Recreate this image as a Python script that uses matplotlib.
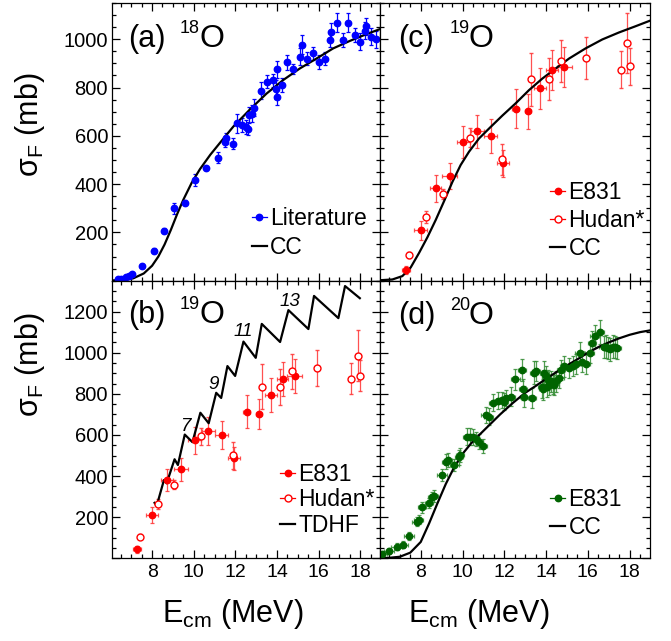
import matplotlib
matplotlib.use('Agg')
import matplotlib.pyplot as plt
from matplotlib.lines import Line2D
from matplotlib.ticker import MultipleLocator, FuncFormatter

plt.rcParams['font.family'] = ['Liberation Sans', 'DejaVu Sans']
plt.rcParams['mathtext.fontset'] = 'custom'
plt.rcParams['mathtext.rm'] = 'Liberation Sans'
plt.rcParams['mathtext.it'] = 'Liberation Sans:italic'

# ---------------- data ----------------
# (a) 18O literature
E_a = [6.35, 6.49, 6.73, 6.88, 7.02, 7.53, 8.08, 8.56, 9.04, 9.59, 10.04, 10.60, 11.19, 11.51, 11.56,
       11.91, 12.07, 12.31, 12.50, 12.63, 12.66, 12.78, 12.90, 13.23, 13.53, 13.82, 13.95, 13.98, 14.01,
       14.22, 14.49, 14.78, 15.10, 15.18, 15.42, 15.74, 16.02, 16.29, 16.56, 16.58, 16.88, 17.17, 17.41,
       17.73, 17.97, 18.21, 18.29, 18.53, 18.77]
sig_a = [5, 9, 14, 20, 27, 60, 124, 207, 299, 323, 416, 468, 510, 575, 589, 568, 651, 644, 637, 630,
         686, 692, 717, 786, 824, 830, 792, 876, 761, 810, 904, 876, 927, 978, 920, 941, 906, 920, 996,
         1031, 1069, 996, 1068, 1017, 989, 1035, 1054, 1010, 999]
err_a = [3, 3, 4, 5, 5, 8, 11, 10, 21, 11, 25, 8, 21, 21, 21, 21, 41, 28, 28, 28, 35, 35, 35, 35, 28,
         28, 41, 35, 35, 28, 30, 21, 35, 41, 28, 28, 30, 28, 30, 35, 41, 28, 39, 28, 35, 35, 35, 35, 35]
cc_a_E = [6.09, 6.6, 7.1, 7.6, 8.0, 8.3, 8.6, 8.9, 9.2, 9.5, 9.9, 10.3, 10.8, 11.3, 11.9, 12.7, 13.5,
          14.3, 15.1, 15.9, 16.7, 17.5, 18.3, 18.95]
cc_a_s = [1, 4, 10, 30, 62, 100, 150, 210, 275, 335, 405, 462, 522, 575, 638, 709, 775, 831, 879, 920,
          962, 993, 1021, 1042]

# 19O E831
E_e = [7.28, 8.00, 8.72, 9.39, 10.04, 10.71, 11.35, 11.94, 12.55, 13.14, 13.71, 14.27, 14.86]
s_e = [44, 209, 382, 433, 575, 619, 599, 486, 713, 702, 796, 874, 886]
ye_e = [17, 39, 55, 55, 66, 69, 69, 55, 79, 72, 83, 83, 83]
xe_e = [0.2, 0.3, 0.27, 0.35, 0.3, 0.32, 0.32, 0.3, 0.16, 0.16, 0.28, 0.28, 0.36]
# 19O Hudan*
E_h = [7.44, 8.27, 9.07, 10.34, 11.88, 13.26, 14.14, 14.70, 15.93, 17.57, 17.89, 18.00]
s_h = [106, 265, 359, 593, 502, 835, 835, 910, 924, 874, 986, 888]
ye_h = [14, 25, 21, 40, 65, 110, 87, 86, 87, 76, 124, 76]
# 19O CC
cc_c_E = [6.05, 6.64, 7.12, 7.52, 7.92, 8.32, 8.72, 9.12, 9.52, 9.91, 10.31, 10.79, 11.35, 11.91, 12.55,
          13.18, 13.82, 14.46, 15.10, 15.89, 16.69, 17.49, 18.29, 18.95]
cc_c_s = [2, 5, 19, 55, 115, 180, 252, 330, 410, 479, 534, 589, 637, 684, 735, 789, 837, 879, 920, 962,
          999, 1028, 1054, 1076]
# 19O TDHF
td_E = [8.12, 8.22, 8.57, 8.70, 9.08, 9.24, 9.57, 9.94, 10.32, 10.72, 11.08, 11.32, 11.62, 11.99, 12.39,
        12.98, 13.27, 14.15, 14.55, 15.51, 15.78, 16.95, 17.27, 17.98]
td_s = [270, 255, 381, 365, 482, 454, 602, 565, 708, 657, 805, 780, 935, 887, 1054, 975, 1140, 1052,
        1207, 1115, 1276, 1168, 1324, 1265]
td_lab = ['7', '9', '11', '13']
td_lab_E = [9.61, 10.96, 12.40, 14.61]
td_lab_s = [643, 844, 1103, 1249]

# (d) 20O E831
E_d = [6.14, 6.49, 6.84, 7.16, 7.45, 7.80, 7.90, 8.06, 8.41, 8.53,
       8.65, 9.02, 9.21, 9.29, 9.61, 9.82, 9.88, 10.20, 10.36, 10.52,
       10.65, 10.78, 10.97, 11.10, 11.25, 11.48, 11.69, 11.87, 12.00, 12.10,
       12.33, 12.53, 12.84, 12.88, 12.96, 13.33, 13.41, 13.52, 13.81, 13.85,
       13.92, 14.00, 14.02, 14.08, 14.16, 14.24, 14.32, 14.40, 14.48, 14.64,
       14.72, 14.88, 15.11, 15.28, 15.41, 15.60, 15.73, 15.89, 16.08, 16.21,
       16.32, 16.56, 16.75, 16.85, 16.96, 17.04, 17.20, 17.28, 17.39]
s_d = [21, 36, 57, 67, 109, 178, 187, 248, 271, 297,
       304, 406, 471, 479, 454, 491, 503, 592, 592, 589,
       579, 568, 547, 698, 689, 757, 767, 771, 762, 779,
       787, 870, 916, 822, 787, 779, 903, 911, 835, 822,
       903, 887, 835, 868, 843, 860, 848, 843, 860, 876,
       916, 933, 925, 936, 946, 998, 957, 946, 998, 1049,
       1079, 1100, 1027, 1030, 1022, 1017, 1030, 1027, 1022]
ye_d = [15, 15, 18, 18, 20, 22, 22, 25, 25, 25,
        28, 30, 35, 35, 30, 35, 35, 40, 40, 40,
        35, 35, 35, 40, 40, 40, 40, 40, 40, 40,
        45, 50, 55, 50, 50, 50, 55, 50, 55, 50,
        55, 50, 50, 50, 50, 50, 50, 50, 50, 50,
        50, 50, 50, 50, 50, 55, 50, 50, 50, 55,
        55, 60, 55, 55, 55, 55, 55, 55, 55]
xe_d = [0.25, 0.25, 0.25, 0.25, 0.25, 0.2, 0.2, 0.2, 0.2, 0.2,
        0.2, 0.25, 0.2, 0.2, 0.2, 0.2, 0.2, 0.2, 0.2, 0.2,
        0.2, 0.2, 0.2, 0.2, 0.2, 0.2, 0.2, 0.2, 0.2, 0.2,
        0.2, 0.2, 0.2, 0.2, 0.2, 0.2, 0.2, 0.2, 0.2, 0.2,
        0.2, 0.2, 0.2, 0.2, 0.2, 0.2, 0.2, 0.2, 0.2, 0.2,
        0.2, 0.2, 0.2, 0.2, 0.2, 0.2, 0.2, 0.2, 0.2, 0.2,
        0.2, 0.2, 0.2, 0.2, 0.2, 0.2, 0.2, 0.2, 0.2]
cc_d_E = [6.05, 6.5, 7.0, 7.5, 8.0, 8.4, 8.8, 9.2, 9.6, 10.0, 10.4, 10.8, 11.3, 11.8, 12.4, 13.0, 13.5,
          14.0, 14.5, 15.0, 15.5, 16.0, 16.5, 17.0, 17.5, 18.0, 18.5, 18.95]
cc_d_s = [1, 3, 8, 28, 80, 170, 268, 362, 443, 508, 558, 600, 650, 700, 755, 805, 838, 873, 906, 938,
          968, 1000, 1027, 1050, 1070, 1087, 1100, 1108]

# ---------------- figure ----------------
W, H = 671, 641
fig = plt.figure(figsize=(W / 100, H / 100), dpi=100)


def px_axes(l, t, r, b):
    return fig.add_axes([l / W, 1 - b / H, (r - l) / W, (b - t) / H])


ax_a = px_axes(111.5, 3, 380, 280.7)
ax_c = px_axes(380, 3, 649.5, 280.7)
ax_b = px_axes(111.5, 280.7, 380, 558.4)
ax_d = px_axes(380, 280.7, 649.5, 558.4)

fmt = FuncFormatter(lambda v, p: '' if abs(v) < 1e-6 else f'{v:.0f}')
for ax in (ax_a, ax_b, ax_c, ax_d):
    ax.set_xlim(6.05, 18.95)
    ax.xaxis.set_major_locator(MultipleLocator(2))
    ax.xaxis.set_minor_locator(MultipleLocator(0.5))
    ax.yaxis.set_major_locator(MultipleLocator(200))
    ax.yaxis.set_minor_locator(MultipleLocator(50))
    ax.yaxis.set_major_formatter(fmt)
    ax.tick_params(which='both', direction='in', top=True, right=True, width=0.9)
    ax.tick_params(which='major', length=5.8)
    ax.tick_params(which='minor', length=2.9)
    ax.tick_params(axis='x', pad=4, labelsize=14)
    ax.tick_params(axis='y', pad=2.5, labelsize=14.5)
    for s in ax.spines.values():
        s.set_linewidth(0.9)
ax_a.set_ylim(0, 1150)
ax_c.set_ylim(0, 1150)
ax_b.set_ylim(0, 1350)
ax_d.set_ylim(0, 1350)
for ax in (ax_a, ax_c):
    ax.tick_params(labelbottom=False)
for ax in (ax_c, ax_d):
    ax.tick_params(labelleft=False)

BLUE = '#0000ff'
RED = '#ff0000'
GREEN = '#006400'
ms = 4.6
ebkw = dict(elinewidth=0.9, capsize=1.4, capthick=0.9)

# (a)
ax_a.errorbar(E_a, sig_a, yerr=err_a, fmt='o', color=BLUE, ms=ms, ecolor=BLUE, **ebkw)
ax_a.plot(cc_a_E, cc_a_s, color='k', lw=1.6)


def plot19(ax):
    ax.errorbar(E_e, s_e, yerr=ye_e, xerr=xe_e, fmt='o', color=RED, ms=ms,
                ecolor=(1, 0.2, 0.2, 0.85), **ebkw)
    ax.errorbar(E_h, s_h, yerr=ye_h, fmt='o', mfc='white', mec=RED, mew=1.0, ms=5.0,
                color=RED, ecolor=(1, 0.2, 0.2, 0.85), **ebkw)


plot19(ax_c)
ax_c.plot(cc_c_E, cc_c_s, color='k', lw=1.6)
plot19(ax_b)
ax_b.plot(td_E, td_s, color='k', lw=1.6)
for t, x, y in zip(td_lab, td_lab_E, td_lab_s):
    ax_b.text(x, y, t, fontsize=13.5, style='italic', ha='center', va='center')

ax_d.errorbar(E_d, s_d, yerr=ye_d, xerr=xe_d, fmt='o', color=GREEN, ms=ms,
              ecolor=(0.2, 0.55, 0.2, 0.85), **ebkw)
ax_d.plot(cc_d_E, cc_d_s, color='k', lw=1.6)

# legends
lfs = 16.5


def mk_leg(ax, handles, labels, x, y, spacing):
    ax.legend(handles, labels, loc='center left', bbox_to_anchor=(x, y), frameon=False,
              fontsize=lfs, borderpad=0, borderaxespad=0, handlelength=0.65,
              handletextpad=0.15, labelspacing=spacing, numpoints=1)


h_lit = Line2D([], [], color=BLUE, marker='o', ms=ms, lw=0.9)
h_cc = Line2D([], [], color='k', lw=1.6)
h_e = Line2D([], [], color=RED, marker='o', ms=ms, lw=0.9)
h_h = Line2D([], [], color=RED, marker='o', mfc='white', mec=RED, mew=1.0, ms=5.0, lw=0.9)
h_g = Line2D([], [], color=GREEN, marker='o', ms=ms, lw=0.9)
mk_leg(ax_a, [h_lit, h_cc], ['Literature', 'CC'], 0.522, 0.172, 0.23)
mk_leg(ax_c, [h_e, h_h, h_cc], ['E831', 'Hudan*', 'CC'], 0.631, 0.2175, 0.21)
mk_leg(ax_b, [h_e, h_h, h_cc], ['E831', 'Hudan*', 'TDHF'], 0.628, 0.2105, 0.1)
mk_leg(ax_d, [h_g, h_cc], ['E831', 'CC'], 0.631, 0.162, 0.19)


# panel labels (positions in figure pixels)
def ftext(px, py, s, **kw):
    fig.text(px / W, 1 - py / H, s, **kw)


for lab, sup, xl, yb in [('(a)', '18', 128, 47), ('(c)', '19', 398, 47),
                         ('(b)', '19', 128, 323), ('(d)', '20', 398, 324)]:
    ftext(xl, yb, lab, fontsize=22, va='baseline', ha='left')
    ftext(xl + 52, yb - 14, sup, fontsize=13, va='baseline', ha='left')
    ftext(xl + 71, yb, 'O', fontsize=23, va='baseline', ha='left')

# axis titles
ylab = 'σ$_{\\mathregular{F}}$ (mb)'
ftext(30, 125, ylab, fontsize=22, rotation=90, ha='center', va='center')
ftext(30, 365, ylab, fontsize=22, rotation=90, ha='center', va='center')
xlab = 'E$_{\\mathregular{cm}}$ (MeV)'
ftext(233, 622, xlab, fontsize=22, ha='center', va='baseline')
ftext(479, 622, xlab, fontsize=22, ha='center', va='baseline')

fig.savefig('out.png', dpi=100)
